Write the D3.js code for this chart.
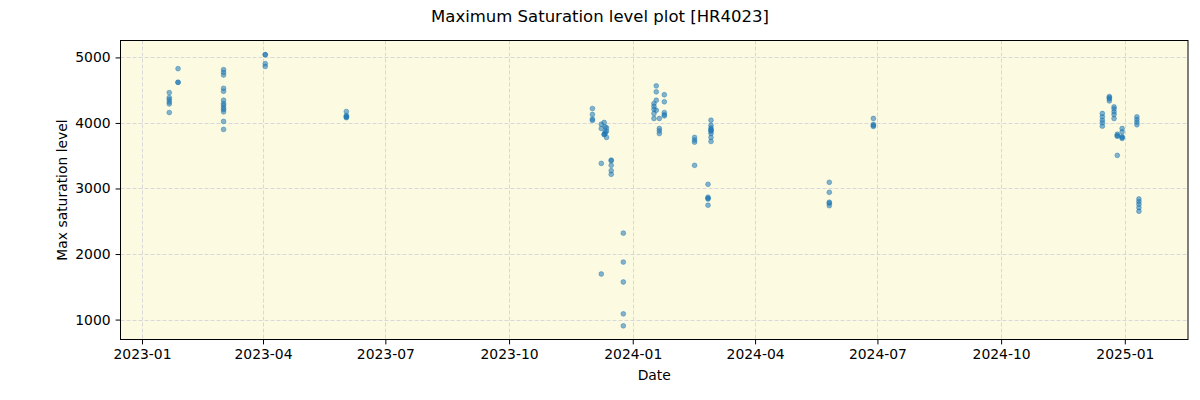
<!DOCTYPE html>
<html>
<head>
<meta charset="utf-8">
<script src="https://cdn.jsdelivr.net/npm/d3@7"></script>
<style>
  html, body { margin: 0; padding: 0; background: #ffffff; }
  svg { display: block; font-family: "DejaVu Sans", sans-serif; }
</style>
</head>
<body>
<svg id="chart" width="1200" height="400"></svg>
<script>
// ---- data ----
const title = "Maximum Saturation level plot [HR4023]";
const xLabel = "Date";
const yLabel = "Max saturation level";
const xTickLabels = ["2023-01","2023-04","2023-07","2023-10","2024-01","2024-04","2024-07","2024-10","2025-01"];
const yTickValues = [1000, 2000, 3000, 4000, 5000];
const xDomain = ["2022-12-16", "2025-02-17"];
const yDomain = [696, 5258];

const obsDates = [
  "2023-01-21T07:00","2023-01-27T19:00","2023-03-02T16:00","2023-04-02T16:00","2023-06-02T00:00",
  "2023-12-02T00:00","2023-12-08T15:00","2023-12-10T18:00","2023-12-11T12:00","2023-12-12T12:00",
  "2023-12-16T00:00","2023-12-25T00:00","2024-01-16T19:00","2024-01-18T12:00","2024-01-20T19:00",
  "2024-01-24T12:00","2024-02-16T00:00","2024-02-26T00:00","2024-02-28T05:00","2024-05-26T05:00",
  "2024-06-28T00:00","2024-12-15T07:00","2024-12-20T12:00","2024-12-24T00:00","2024-12-26T10:00",
  "2024-12-30T00:00","2025-01-10T00:00","2025-01-11T12:00"
];
const obsValues = [
  [4463, 4387, 4357, 4320, 4290, 4159],
  [4828, 4620, 4620],
  [4813, 4772, 4731, 4529, 4483, 4346, 4296, 4270, 4229, 4205, 4169, 4023, 3901],
  [5041, 5041, 4904, 4863],
  [4174, 4114, 4093, 4080, 4093],
  [4220, 4129, 4057, 4038],
  [3981, 3915, 3383, 1695],
  [4007, 3825, 3825],
  [3940, 3864, 3838],
  [3925, 3875, 3779],
  [3433, 3423, 3353, 3271, 3216],
  [2319, 1877, 1573, 1087, 904],
  [4296, 4255, 4209, 4144, 4068],
  [4566, 4475, 4346, 4194],
  [4068, 3915, 3880, 3838],
  [4430, 4323, 4159, 4124, 4108],
  [3779, 3738, 3707, 3353],
  [3064, 2867, 2850, 2840, 2745],
  [4042, 3966, 3924, 3900, 3890, 3870, 3838, 3779, 3718],
  [3094, 2942, 2790, 2775, 2738],
  [4068, 3977, 3960, 3947],
  [4144, 4093, 4042, 4002, 3951],
  [4403, 4387, 4367, 4336],
  [4245, 4215, 4169, 4129, 4068],
  [3828, 3798, 3805, 3505],
  [3915, 3864, 3779, 3764, 3790],
  [4093, 4053, 4012, 3972],
  [2840, 2800, 2760, 2708, 2653]
];

// ---- layout ----
const svg = d3.select("#chart");
const margin = { left: 120.5, right: 12, top: 40.5, bottom: 60.5 };
const W = 1200, H = 400;
const parse = d3.utcParse("%Y-%m-%dT%H:%M");
const parseDay = d3.utcParse("%Y-%m-%d");
const parseMonth = d3.utcParse("%Y-%m");

const x = d3.scaleUtc()
  .domain(xDomain.map(parseDay))
  .range([margin.left, W - margin.right]);
const y = d3.scaleLinear()
  .domain(yDomain)
  .range([H - margin.bottom, margin.top]);

const points = [];
obsDates.forEach((d, i) => {
  obsValues[i].forEach(v => points.push({ date: parse(d), value: v }));
});

// background
svg.append("rect")
  .attr("x", margin.left).attr("y", margin.top)
  .attr("width", W - margin.right - margin.left)
  .attr("height", H - margin.bottom - margin.top)
  .attr("fill", "#fcfbe2");

// grid
const gridG = svg.append("g");
xTickLabels.forEach(t => {
  const px = Math.round(x(parseMonth(t))) + 0.5;
  gridG.append("line")
    .attr("x1", px).attr("x2", px)
    .attr("y1", margin.top).attr("y2", H - margin.bottom)
    .attr("stroke", "#cfcfd6").attr("stroke-width", 0.8)
    .attr("stroke-dasharray", "4,2");
});
yTickValues.forEach(t => {
  const py = Math.round(y(t)) + 0.5;
  gridG.append("line")
    .attr("x1", margin.left).attr("x2", W - margin.right)
    .attr("y1", py).attr("y2", py)
    .attr("stroke", "#cfcfd6").attr("stroke-width", 0.8)
    .attr("stroke-dasharray", "4,2");
});

// points
svg.append("g")
  .selectAll("circle")
  .data(points)
  .join("circle")
  .attr("cx", d => x(d.date))
  .attr("cy", d => y(d.value))
  .attr("r", 2.4)
  .attr("fill", "#1f77b4")
  .attr("fill-opacity", 0.55)
  .attr("stroke", "#1f77b4")
  .attr("stroke-opacity", 0.55)
  .attr("stroke-width", 0.8);

// frame
svg.append("rect")
  .attr("x", margin.left).attr("y", margin.top)
  .attr("width", W - margin.right - margin.left)
  .attr("height", H - margin.bottom - margin.top)
  .attr("fill", "none").attr("stroke", "#000").attr("stroke-width", 1);

// axes
const xAxis = d3.axisBottom(x)
  .tickValues(xTickLabels.map(parseMonth))
  .tickFormat(d3.utcFormat("%Y-%m"))
  .tickSizeOuter(0).tickSize(4.9).tickPadding(5);
const gx = svg.append("g")
  .attr("transform", `translate(0,${H - margin.bottom})`)
  .call(xAxis);
gx.select(".domain").remove();
gx.selectAll("text").attr("font-size", 13.9).attr("fill", "#000")
  .attr("font-family", "DejaVu Sans, sans-serif");

const yAxis = d3.axisLeft(y)
  .tickValues(yTickValues)
  .tickFormat(d3.format("d"))
  .tickSizeOuter(0).tickSize(4.9).tickPadding(5);
const gy = svg.append("g")
  .attr("transform", `translate(${margin.left},0)`)
  .call(yAxis);
gy.select(".domain").remove();
gy.selectAll("text").attr("font-size", 13.9).attr("fill", "#000")
  .attr("font-family", "DejaVu Sans, sans-serif");

// labels
svg.append("text")
  .attr("x", 600).attr("y", 22)
  .attr("text-anchor", "middle")
  .attr("font-size", 16.5)
  .text(title);
svg.append("text")
  .attr("x", (margin.left + W - margin.right) / 2).attr("y", 380)
  .attr("text-anchor", "middle")
  .attr("font-size", 13.9)
  .text(xLabel);
svg.append("text")
  .attr("transform", `translate(67,${(margin.top + H - margin.bottom) / 2}) rotate(-90)`)
  .attr("text-anchor", "middle")
  .attr("font-size", 13.9)
  .text(yLabel);
</script>
</body>
</html>
